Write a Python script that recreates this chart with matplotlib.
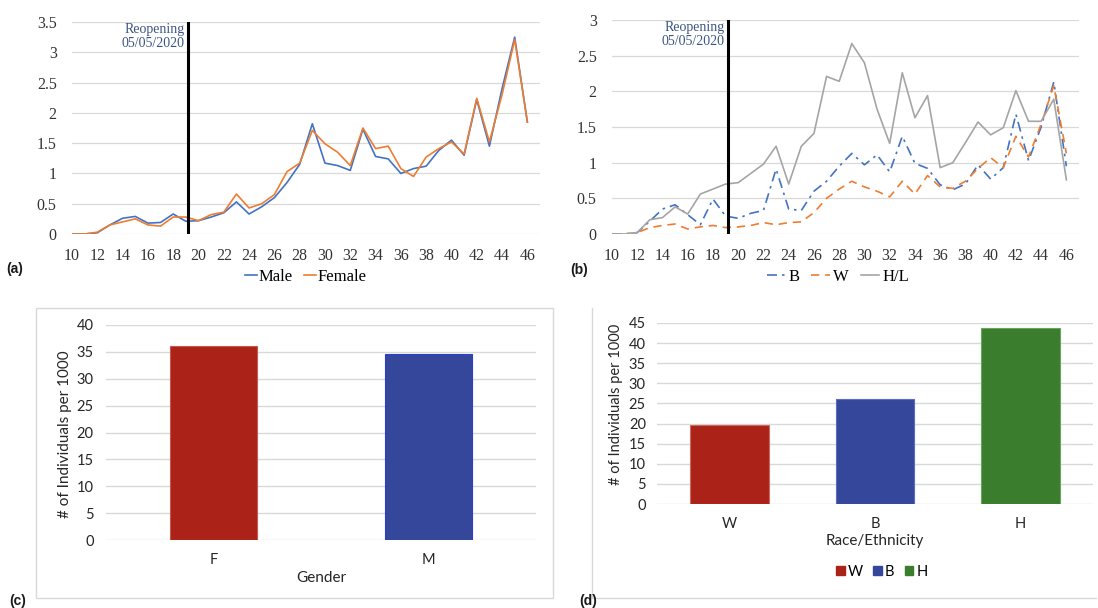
import numpy as np
import matplotlib
matplotlib.use("Agg")
import matplotlib.pyplot as plt
from matplotlib.lines import Line2D
from matplotlib.patches import Rectangle, Patch
from matplotlib.ticker import FuncFormatter

# weekly rates (panels a, b)
weeks = list(range(10, 47))
male = [0, 0, 0.02, 0.15, 0.26, 0.29, 0.18, 0.19, 0.33, 0.21, 0.22, 0.28, 0.35, 0.53, 0.33, 0.45,
        0.6, 0.85, 1.15, 1.82, 1.17, 1.13, 1.05, 1.73, 1.28, 1.24, 1.0, 1.08, 1.12, 1.38, 1.55,
        1.3, 2.22, 1.45, 2.4, 3.25, 1.85]
female = [0, 0, 0.03, 0.15, 0.2, 0.25, 0.15, 0.13, 0.28, 0.28, 0.22, 0.32, 0.36, 0.66, 0.43, 0.5,
          0.65, 1.03, 1.17, 1.71, 1.49, 1.35, 1.13, 1.75, 1.41, 1.45, 1.08, 0.95, 1.27, 1.41, 1.52,
          1.32, 2.24, 1.52, 2.3, 3.21, 1.85]
black = [0, 0, 0.02, 0.18, 0.35, 0.41, 0.27, 0.13, 0.49, 0.25, 0.22, 0.29, 0.33, 0.91, 0.35, 0.33,
         0.6, 0.74, 0.95, 1.13, 0.97, 1.11, 0.87, 1.37, 0.99, 0.92, 0.69, 0.62, 0.7, 0.97, 0.77,
         0.93, 1.68, 1.03, 1.5, 2.13, 0.95]
white = [0, 0, 0.02, 0.09, 0.12, 0.14, 0.07, 0.1, 0.12, 0.09, 0.1, 0.12, 0.16, 0.13, 0.16, 0.17,
         0.3, 0.5, 0.63, 0.74, 0.66, 0.6, 0.52, 0.74, 0.56, 0.82, 0.66, 0.64, 0.74, 0.92, 1.07,
         0.93, 1.37, 1.08, 1.54, 2.08, 1.13]
hisp = [0, 0, 0.02, 0.2, 0.23, 0.38, 0.28, 0.56, 0.63, 0.7, 0.72, 0.85, 0.98, 1.23, 0.7, 1.23,
        1.41, 2.21, 2.14, 2.67, 2.4, 1.75, 1.27, 2.26, 1.63, 1.94, 0.93, 1.0, 1.28, 1.57, 1.39,
        1.49, 2.01, 1.58, 1.58, 1.89, 0.76]
reopen_week = 19.2

# totals (panels c, d)
gender_cats = ["F", "M"]
gender_vals = [36.1, 34.6]
race_cats = ["W", "B", "H"]
race_vals = [19.7, 26.1, 43.8]

W, H = 1098, 608
fig = plt.figure(figsize=(W / 100, H / 100), dpi=100)


def box(l, t, r, b):
    return [l / W, 1 - b / H, (r - l) / W, (b - t) / H]


GRID = "#D9D9D9"
SERIF = "Liberation Serif"
SANS = "Lato"


def line_axes(rect, ymax):
    ax = fig.add_axes(rect)
    ax.set_xlim(10, 47)
    ax.set_ylim(0, ymax)
    ax.set_xticks(range(10, 47, 2))
    ax.set_yticks(np.arange(0, ymax + 0.01, 0.5))
    ax.yaxis.set_major_formatter(FuncFormatter(lambda v, _: f"{v:g}"))
    ax.grid(axis="y", color=GRID, lw=0.9)
    ax.set_axisbelow(True)
    for s in ax.spines.values():
        s.set_visible(False)
    ax.tick_params(length=0, labelsize=11.5, labelcolor="#333333")
    ax.tick_params(axis="y", pad=11)
    ax.tick_params(axis="x", pad=10)
    for lab in ax.get_xticklabels() + ax.get_yticklabels():
        lab.set_family(SERIF)
    ax.axvline(reopen_week, color="black", lw=2.2, zorder=5)
    ax.text(reopen_week - 0.3, ymax * 0.995, "Reopening\n05/05/2020", ha="right", va="top",
            family=SERIF, fontsize=10, color="#3B5584", linespacing=1.1)
    return ax


# (a) gender
ax_a = line_axes(box(72, 22, 540, 234), 3.5)
ax_a.plot(weeks, male, color="#4472C4", lw=1.2, label="Male")
ax_a.plot(weeks, female, color="#ED7D31", lw=1.2, label="Female")
ax_a.legend(loc="center", bbox_to_anchor=(306 / W, 1 - 277 / H), bbox_transform=fig.transFigure,
            ncol=2, frameon=False, prop={"family": SERIF, "size": 12}, handlelength=0.7,
            handletextpad=0.1, columnspacing=0.7, borderpad=0)

# (b) race / ethnicity
ax_b = line_axes(box(612, 20, 1079, 234), 3.0)
ax_b.plot(weeks, black, color="#4472C4", lw=1.2, dashes=(6, 3, 1.5, 3), label="B")
ax_b.plot(weeks, white, color="#ED7D31", lw=1.2, dashes=(5, 3.5), label="W")
ax_b.plot(weeks, hisp, color="#A5A5A5", lw=1.2, label="H/L")
ax_b.legend(loc="center", bbox_to_anchor=(838 / W, 1 - 277 / H), bbox_transform=fig.transFigure,
            ncol=3, frameon=False, prop={"family": SERIF, "size": 12}, handlelength=1.1,
            handletextpad=0.2, columnspacing=0.7, borderpad=0)


def bar_axes(rect, cats, vals, colors, edges, ymax, width):
    ax = fig.add_axes(rect)
    x = np.arange(len(cats))
    ax.bar(x, vals, width=width, color=colors, edgecolor=edges, lw=0.8, zorder=3)
    ax.set_xlim(-0.5, len(cats) - 0.5)
    ax.set_ylim(0, ymax)
    ax.set_yticks(range(0, ymax + 1, 5))
    ax.set_xticks(x)
    ax.set_xticklabels(cats)
    ax.grid(axis="y", color=GRID, lw=1.0)
    ax.set_axisbelow(True)
    for s in ax.spines.values():
        s.set_visible(False)
    ax.tick_params(length=0, labelsize=10.5, labelcolor="#262626")
    for lab in ax.get_xticklabels() + ax.get_yticklabels():
        lab.set_family(SANS)
    return ax


RED, BLUE, GREEN = "#AB2318", "#34479B", "#3A7E2D"

# (c) totals by gender
ax_c = bar_axes(box(106, 325, 536, 540), gender_cats, gender_vals, [RED, BLUE],
                ["#C8574C", "#2A3FD0"], 40, 0.405)
ax_c.tick_params(axis="y", pad=9)
ax_c.tick_params(axis="x", pad=9)
ax_c.set_xlabel("Gender", family=SANS, fontsize=11, color="#262626")
ax_c.xaxis.set_label_coords(0.5, -0.145)
ax_c.set_ylabel("# of Individuals per 1000", family=SANS, fontsize=11, color="#262626")
ax_c.yaxis.set_label_coords(-0.079, 0.49)

# (d) totals by race / ethnicity
ax_d = bar_axes(box(657, 323, 1093, 504), race_cats, race_vals, [RED, BLUE, GREEN],
                ["#D06A60", "#5A6CC0", "#6AA45C"], 45, 0.54)
ax_d.tick_params(axis="y", pad=8)
ax_d.tick_params(axis="x", pad=9)
ax_d.set_xlabel("Race/Ethnicity", family=SANS, fontsize=11, color="#262626")
ax_d.xaxis.set_label_coords(0.5, -0.165)
ax_d.set_ylabel("# of Individuals per 1000", family=SANS, fontsize=10.5, color="#262626")
ax_d.yaxis.set_label_coords(-0.078, 0.55)
handles = [Patch(color=c, label=l) for c, l in zip([RED, BLUE, GREEN], race_cats)]
ax_d.legend(handles=handles, loc="center", bbox_to_anchor=(882 / W, 1 - 572 / H),
            bbox_transform=fig.transFigure, ncol=3, frameon=False,
            prop={"family": SANS, "size": 10.5}, handlelength=0.6, handleheight=0.6,
            handletextpad=0.2, columnspacing=0.7, borderpad=0)

# chart frames
fig.patches.append(Rectangle((36 / W, 1 - 598 / H), (553 - 36) / W, (598 - 308) / H,
                             transform=fig.transFigure, fill=False, edgecolor=GRID, lw=1.0))
fig.lines.append(Line2D([592 / W, 592 / W, 1096 / W], [1 - 308 / H, 1 - 598 / H, 1 - 598 / H],
                        transform=fig.transFigure, color=GRID, lw=1.0))

# panel letters
for lab, px, py in [("(a)", 15, 269), ("(b)", 579, 270), ("(c)", 18, 601), ("(d)", 588, 601)]:
    fig.text(px / W, 1 - py / H, lab, ha="center", va="center", fontsize=10,
             fontweight="bold", family="Liberation Sans", color="#1a1a1a")

fig.savefig("out.png", dpi=100, facecolor="white")
